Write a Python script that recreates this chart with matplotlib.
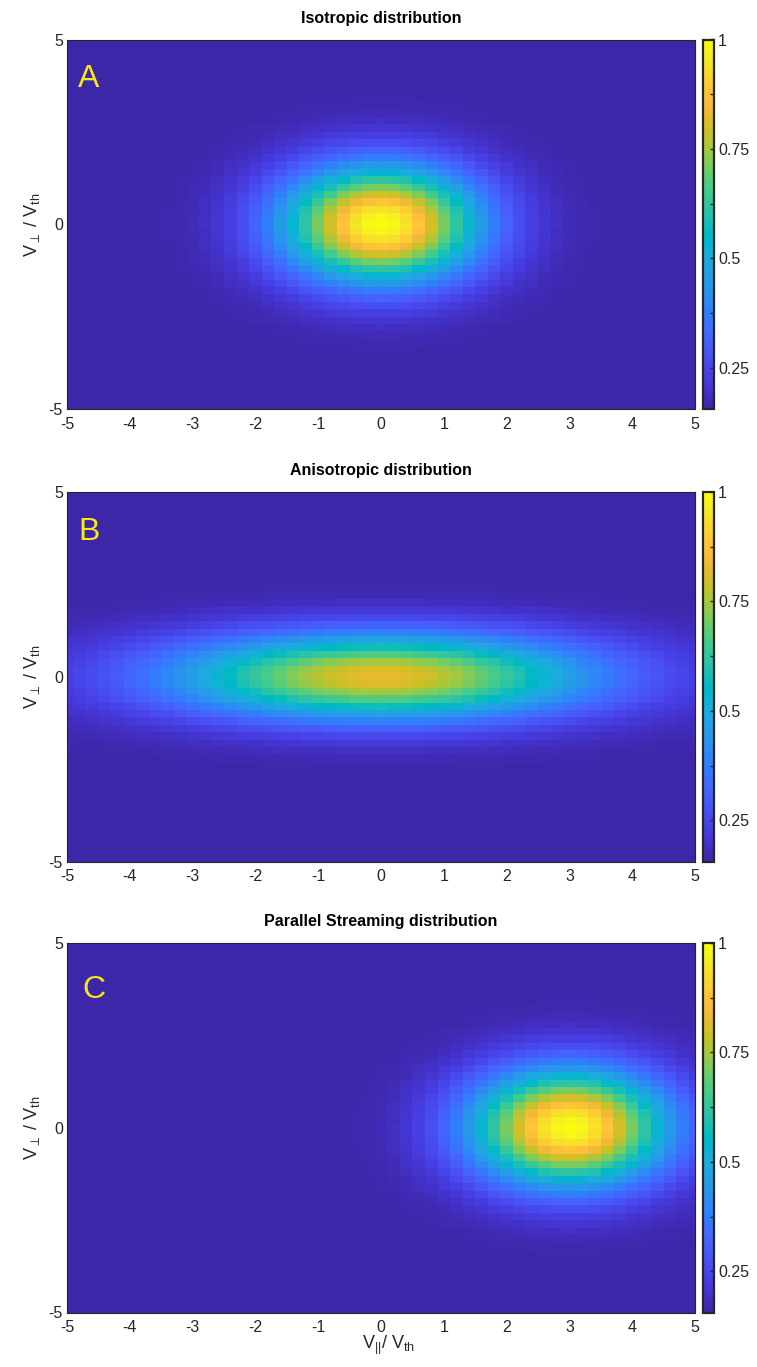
import numpy as np
import matplotlib
matplotlib.use("Agg")
import matplotlib.pyplot as plt
from matplotlib.colors import LinearSegmentedColormap
from matplotlib.ticker import FixedLocator, NullFormatter

plt.rcParams['font.family'] = ['Liberation Sans', 'DejaVu Sans']
plt.rcParams['mathtext.fontset'] = 'custom'
plt.rcParams['mathtext.rm'] = 'Liberation Sans'
plt.rcParams['mathtext.it'] = 'Liberation Sans:italic'
plt.rcParams['mathtext.fallback'] = 'stixsans'

# ---- data -------------------------------------------------------------
v_grid = np.arange(-5.0, 5.0001, 0.2)          # velocity grid, units of V_th

titles = ["Isotropic distribution",
          "Anisotropic distribution",
          "Parallel Streaming distribution"]
letters = ["A", "B", "C"]

drift_par = [0.0, 0.0, 3.0]      # centre along V_par
drift_perp = [0.0, 0.0, 0.0]     # centre along V_perp
width_par = [1.1, 2.4, 1.1]      # thermal spread along V_par
width_perp = [1.1, 0.82, 1.1]    # thermal spread along V_perp
peak = [1.0, 0.83, 1.0]          # peak of each distribution
floor_level = 0.156              # background level of the distributions

c_min, c_max = 0.156, 1.0
cbar_ticks = [0.25, 0.5, 0.75, 1.0]
cbar_minor = [0.375, 0.625, 0.875]
x_ticks = [-5, -4, -3, -2, -1, 0, 1, 2, 3, 4, 5]
y_ticks = [-5, 0, 5]

# ---- parula colormap ---------------------------------------------------
parula_rgb = [
    [0.2422, 0.1504, 0.6603], [0.2504, 0.1650, 0.7076], [0.2578, 0.1818, 0.7511],
    [0.2647, 0.1978, 0.7952], [0.2706, 0.2147, 0.8364], [0.2751, 0.2342, 0.8710],
    [0.2783, 0.2559, 0.8991], [0.2803, 0.2782, 0.9221], [0.2813, 0.3006, 0.9414],
    [0.2810, 0.3228, 0.9579], [0.2795, 0.3447, 0.9717], [0.2760, 0.3667, 0.9829],
    [0.2699, 0.3892, 0.9906], [0.2602, 0.4123, 0.9952], [0.2440, 0.4358, 0.9988],
    [0.2206, 0.4603, 0.9973], [0.1963, 0.4847, 0.9892], [0.1834, 0.5074, 0.9798],
    [0.1786, 0.5289, 0.9682], [0.1764, 0.5499, 0.9520], [0.1687, 0.5703, 0.9359],
    [0.1540, 0.5902, 0.9218], [0.1460, 0.6091, 0.9079], [0.1380, 0.6276, 0.8973],
    [0.1248, 0.6459, 0.8883], [0.1113, 0.6635, 0.8763], [0.0952, 0.6798, 0.8598],
    [0.0689, 0.6948, 0.8394], [0.0297, 0.7082, 0.8163], [0.0036, 0.7203, 0.7917],
    [0.0067, 0.7312, 0.7660], [0.0433, 0.7411, 0.7394], [0.0964, 0.7500, 0.7120],
    [0.1408, 0.7584, 0.6842], [0.1717, 0.7670, 0.6554], [0.1938, 0.7758, 0.6251],
    [0.2161, 0.7843, 0.5923], [0.2470, 0.7918, 0.5567], [0.2906, 0.7973, 0.5188],
    [0.3406, 0.8008, 0.4789], [0.3909, 0.8029, 0.4354], [0.4456, 0.8024, 0.3909],
    [0.5044, 0.7993, 0.3480], [0.5616, 0.7942, 0.3045], [0.6174, 0.7876, 0.2612],
    [0.6720, 0.7793, 0.2227], [0.7242, 0.7698, 0.1910], [0.7738, 0.7598, 0.1646],
    [0.8203, 0.7498, 0.1535], [0.8634, 0.7406, 0.1596], [0.9035, 0.7330, 0.1774],
    [0.9393, 0.7288, 0.2100], [0.9728, 0.7298, 0.2394], [0.9956, 0.7434, 0.2371],
    [0.9970, 0.7659, 0.2199], [0.9952, 0.7893, 0.2028], [0.9892, 0.8136, 0.1885],
    [0.9813, 0.8386, 0.1766], [0.9733, 0.8646, 0.1655], [0.9667, 0.8906, 0.1535],
    [0.9619, 0.9168, 0.1380], [0.9620, 0.9426, 0.1165], [0.9650, 0.9679, 0.0893],
    [0.9763, 0.9831, 0.0538]]
parula = LinearSegmentedColormap.from_list("parula", parula_rgb, N=256)

# ---- figure ------------------------------------------------------------
W, H = 757, 1367
fig = plt.figure(figsize=(W / 100, H / 100), dpi=100)

ax_left, ax_right = 67, 695
cb_left, cb_right = 703, 714
panel_tops = [39.5, 492, 943]
panel_h = 369.5
letter_pos = [(-4.82, 3.92), (-4.82, 3.92), (-4.75, 3.72)]
edge = "#262626"

VX, VY = np.meshgrid(v_grid, v_grid)

for i in range(3):
    top = panel_tops[i]
    y0 = 1 - (top + panel_h) / H
    ax = fig.add_axes([ax_left / W, y0, (ax_right - ax_left) / W, panel_h / H])
    cax = fig.add_axes([cb_left / W, y0, (cb_right - cb_left) / W, panel_h / H])

    g = np.exp(-((VX - drift_par[i]) ** 2) / (2 * width_par[i] ** 2)
               - ((VY - drift_perp[i]) ** 2) / (2 * width_perp[i] ** 2))
    f = floor_level + (peak[i] - floor_level) * g
    mesh = ax.pcolormesh(v_grid, v_grid, f, cmap=parula, vmin=c_min, vmax=c_max,
                         shading="nearest", rasterized=True)
    ax.set_xlim(-5, 5)
    ax.set_ylim(-5, 5)
    ax.set_xticks(x_ticks)
    ax.set_yticks(y_ticks)
    ax.set_xticklabels([str(t) for t in x_ticks])
    ax.set_yticklabels([str(t) for t in y_ticks])
    ax.tick_params(axis="x", length=0, pad=5.5, labelsize=11.5, colors="#262626")
    ax.tick_params(axis="y", length=0, pad=3, labelsize=11.5, colors="#262626")
    for sp in ax.spines.values():
        sp.set_color(edge)
        sp.set_linewidth(0.8)

    ax.set_title(titles[i], fontsize=11.5, fontweight="bold", pad=12, color="black")
    ax.set_ylabel(r"V$_{\perp}$ / V$_{\mathrm{th}}$", fontsize=13, color="#262626")
    ax.yaxis.set_label_coords(-0.040, 0.5)

    lx, ly = letter_pos[i]
    ax.text(lx, ly, letters[i], fontsize=23, color="#F7E816", ha="left", va="center")

    cb = fig.colorbar(mesh, cax=cax)
    cb.set_ticks(cbar_ticks)
    cb.set_ticklabels(["0.25", "0.5", "0.75", "1"])
    cb.ax.yaxis.set_minor_locator(FixedLocator(cbar_minor))
    cb.ax.yaxis.set_minor_formatter(NullFormatter())
    cb.ax.tick_params(which="major", direction="in", length=3, width=1, pad=3,
                      labelsize=11.5, colors="#262626")
    cb.ax.tick_params(which="minor", direction="in", length=3, width=1, colors="#262626")
    cb.outline.set_edgecolor(edge)
    cb.outline.set_linewidth(1.6)

    if i == 2:
        ax.set_xlabel(r"V$_{||}$/ V$_{\mathrm{th}}$", fontsize=13, color="#262626")
        ax.xaxis.set_label_coords((389 - ax_left) / (ax_right - ax_left), -0.058)
        ax.xaxis.label.set_va("top")

fig.savefig("out.png", dpi=100)
